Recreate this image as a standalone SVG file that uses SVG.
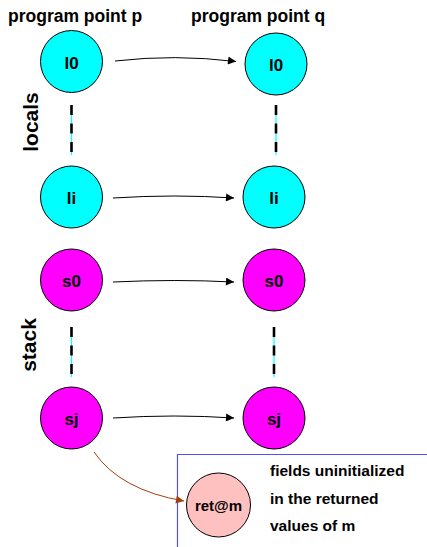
<svg xmlns="http://www.w3.org/2000/svg" width="427" height="547" viewBox="0 0 427 547">
<style>
text{font-family:"Liberation Sans",Arial,sans-serif;font-weight:bold;fill:#000}
.t{font-size:17.5px}
.n{font-size:17px;text-anchor:middle}
.r{font-size:15px;text-anchor:middle}
.note{font-size:15.5px}
.loc{fill:#00ffff;stroke:#000;stroke-width:1}
.stk{fill:#ff00ff;stroke:#000;stroke-width:1}
.ret{fill:#ffc0c0;stroke:#000;stroke-width:1}
.edge{fill:none;stroke:#000;stroke-width:1}
.cy{stroke:#00ffff;stroke-width:1.2}
.da{stroke:#000;stroke-width:2.6;stroke-dasharray:10,8.5}
.side{font-size:21px;text-anchor:middle}
</style>
<defs>
<marker id="ah" viewBox="0 0 10 10" refX="10" refY="5" markerWidth="10" markerHeight="8" markerUnits="userSpaceOnUse" orient="auto"><path d="M0,0 L10,5 L0,10 z" fill="#000"/></marker>
<marker id="ahb" viewBox="0 0 10 10" refX="10" refY="5" markerWidth="10" markerHeight="8" markerUnits="userSpaceOnUse" orient="auto"><path d="M0,0 L10,5 L0,10 z" fill="#a0410d"/></marker>
</defs>
<text class="t" x="8" y="22">program point p</text>
<text class="t" x="191" y="22">program point q</text>
<text class="side" transform="translate(38,122) rotate(-90)">locals</text>
<text class="side" transform="translate(36,345) rotate(-90)">stack</text>
<g id="dashes">
<line class="cy" x1="71.5" y1="105" x2="71.5" y2="155"/><line class="da" x1="71.5" y1="105" x2="71.5" y2="155"/>
<line class="cy" x1="276" y1="105" x2="276" y2="155"/><line class="da" x1="276" y1="105" x2="276" y2="155"/>
<line class="cy" x1="71.5" y1="327" x2="71.5" y2="377"/><line class="da" x1="71.5" y1="327" x2="71.5" y2="377"/>
<line class="cy" x1="274" y1="327" x2="274" y2="377"/><line class="da" x1="274" y1="327" x2="274" y2="377"/>
</g>
<g id="box"><polyline points="427,454.5 177.5,454.5 177.5,547" fill="none" stroke="#5050ff" stroke-width="1.2"/></g>
<g id="connectors">
<path class="edge" d="M115,61 Q175,54 236,61.5" marker-end="url(#ah)"/>
<path class="edge" d="M113,198 Q175,194 234,198" marker-end="url(#ah)"/>
<path class="edge" d="M113,282 Q175,279 234,282" marker-end="url(#ah)"/>
<path class="edge" d="M113,418 Q175,414 234,418" marker-end="url(#ah)"/>
<path d="M94,452 Q120,490 184,501" fill="none" stroke="#a0410d" stroke-width="1" marker-end="url(#ahb)"/>
</g>
<g id="l0p"><circle class="loc" cx="71.5" cy="61.5" r="31"/><text class="n" x="71.5" y="68.5">l0</text></g>
<g id="l0q"><circle class="loc" cx="276" cy="64" r="31"/><text class="n" x="276" y="70.5">l0</text></g>
<g id="lip"><circle class="loc" cx="71.5" cy="197" r="31"/><text class="n" x="71.5" y="203.5">li</text></g>
<g id="liq"><circle class="loc" cx="274" cy="197" r="31"/><text class="n" x="274" y="203.5">li</text></g>
<g id="s0p"><circle class="stk" cx="71.5" cy="280" r="31"/><text class="n" x="71.5" y="286.5">s0</text></g>
<g id="s0q"><circle class="stk" cx="274" cy="280" r="31"/><text class="n" x="274" y="286.5">s0</text></g>
<g id="sjp"><circle class="stk" cx="71.5" cy="418" r="31"/><text class="n" x="71.5" y="424.5">sj</text></g>
<g id="sjq"><circle class="stk" cx="274" cy="418" r="31"/><text class="n" x="274" y="424.5">sj</text></g>
<g id="retm"><circle class="ret" cx="218.5" cy="505" r="32"/><text class="r" x="218.5" y="511">ret@m</text></g>
<g id="note">
<text class="note" x="270" y="476">fields uninitialized</text>
<text class="note" x="270" y="503.5">in the returned</text>
<text class="note" x="270" y="531">values of m</text>
</g>
</svg>
